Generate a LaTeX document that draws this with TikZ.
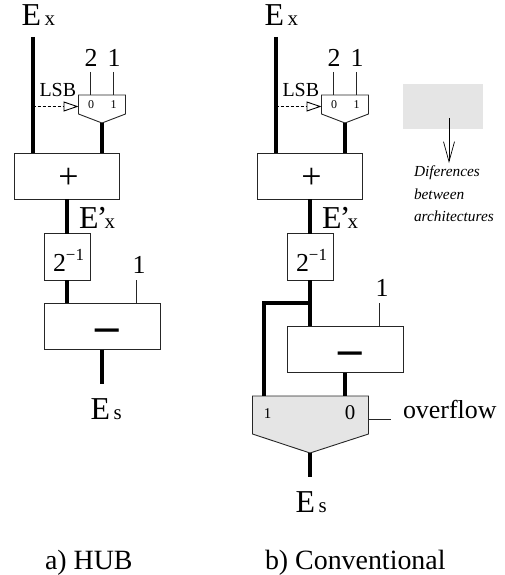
\documentclass[tikz,border=0pt]{standalone}
\usepackage{fontspec}
\setmainfont{Liberation Serif}
\usetikzlibrary{arrows.meta}
\newcommand{\fs}[1]{\fontsize{#1}{#1}\selectfont}
\newcommand{\halfpow}{{\fs{26}2}\raisebox{11bp}{\fs{17}−1}}
\newcommand{\bigsub}[1]{{\fs{32}E}\hspace{3.5bp}{\fs{21}#1}}
\newcommand{\primesub}{{\fs{32}E\hspace{-1.5bp}’\hspace{-3bp}}{\fs{21}x}}
\tikzset{
  x=1bp,y=-1bp,
  thinw/.style={line width=0.9bp,draw=black!85},
  bus/.style={line width=4bp,draw=black},
  blockbox/.style={draw=black!85,line width=0.9bp,fill=white,rectangle,inner sep=0pt,outer sep=0pt},
  txt/.style={anchor=base west,inner sep=0pt,outer sep=0pt},
  ctxt/.style={anchor=base,inner sep=0pt,outer sep=0pt},
  muxs/.style={draw=black!85,line width=0.9bp,line join=miter},
  opsign/.style={anchor=center,inner sep=0pt,outer sep=0pt,font=\fs{47}\bfseries},
  plussign/.style={anchor=center,inner sep=0pt,outer sep=0pt,font=\fs{36}},
  note/.style={txt,font=\fs{15.4}\itshape},
  selarrow/.style={line width=0.9bp,dash pattern=on 3bp off 2bp,-{Triangle[open,length=15bp,width=10bp]}},
}
\begin{document}
\begin{tikzpicture}
\useasboundingbox (0,0) rectangle (505,575);
% ---------- left: HUB
\node[txt] (exa) at (21.6,26) {\bigsub{x}};
\node[blockbox,minimum width=104.5bp,minimum height=46bp] (adda) at (66.75,176) {};
\node[plussign] at (68.5,178) {+};
\coordinate (exatop) at (32.5,37);
\coordinate (muxal) at (78.5,95); \coordinate (muxar) at (125.5,95);
\coordinate (muxaout) at (102,123);
\coordinate (muxasel) at (78.5,106.5);
\draw[muxs] (muxal) -- (muxar) -- (125.5,114) -- (muxaout) -- (78.5,114) -- cycle;
\node[ctxt,font=\fs{26}] (twoa) at (91,66.5) {2};
\node[ctxt,font=\fs{26}] (onea) at (114,66.5) {1};
\coordinate (twoaend) at (90.5,72); \coordinate (oneaend) at (113,72);
\draw[thinw] (twoaend) -- (twoaend |- muxal);
\draw[thinw] (oneaend) -- (oneaend |- muxal);
\node[ctxt,font=\fs{12}] (za) at (91,109) {0};
\node[ctxt,font=\fs{12}] (oa) at (113.5,109) {1};
\node[txt,font=\fs{20}] (lsba) at (39.5,97) {LSB};
\draw[bus] (exatop) -- (exatop |- adda.north);
\draw[bus] (muxaout) -- (muxaout |- adda.north);
\draw[selarrow] (exatop |- muxasel) -- (muxasel);
\node[txt] (epa) at (79,228.5) {\primesub};
\node[blockbox,minimum width=46.5bp,minimum height=46.5bp] (hala) at (67.25,256.75) {};
\node[txt] at (53,271) {\halfpow};
\draw[bus] (hala.north |- adda.south) -- (hala.north);
\node[blockbox,minimum width=116bp,minimum height=46.5bp] (suba) at (102,326.25) {};
\node[opsign] at (107,335) {–};
\draw[bus] (hala.south) -- (hala.south |- suba.north);
\coordinate (oneb) at (136.5,280);
\draw[thinw] (oneb) -- (oneb |- suba.north);
\node[ctxt,font=\fs{26}] (onec) at (139,273) {1};
\coordinate (esa) at (101.5,384);
\draw[bus] (esa |- suba.south) -- (esa);
\node[txt] (esat) at (90.6,419) {\bigsub{s}};
\node[txt,font=\fs{28}] (capa) at (45,569.5) {a) HUB};
% ---------- right: conventional
\node[txt] (exb) at (264.6,26) {\bigsub{x}};
\node[blockbox,minimum width=104.5bp,minimum height=46bp] (addb) at (309.75,176) {};
\node[plussign] at (311.5,178) {+};
\coordinate (exbtop) at (275.5,37);
\coordinate (muxbl) at (321.5,95); \coordinate (muxbr) at (368.5,95);
\coordinate (muxbout) at (345,123);
\coordinate (muxbsel) at (321.5,106.5);
\draw[muxs] (muxbl) -- (muxbr) -- (368.5,114) -- (muxbout) -- (321.5,114) -- cycle;
\node[ctxt,font=\fs{26}] (twob) at (334,66.5) {2};
\node[ctxt,font=\fs{26}] (oneb1) at (357,66.5) {1};
\coordinate (twobend) at (333.5,72); \coordinate (onebend) at (356,72);
\draw[thinw] (twobend) -- (twobend |- muxbl);
\draw[thinw] (onebend) -- (onebend |- muxbl);
\node[ctxt,font=\fs{12}] (zb) at (334,109) {0};
\node[ctxt,font=\fs{12}] (ob) at (356.5,109) {1};
\node[txt,font=\fs{20}] (lsbb) at (282.5,97) {LSB};
\draw[bus] (exbtop) -- (exbtop |- addb.north);
\draw[bus] (muxbout) -- (muxbout |- addb.north);
\draw[selarrow] (exbtop |- muxbsel) -- (muxbsel);
\node[txt] (epb) at (322,228.5) {\primesub};
\node[blockbox,minimum width=46.5bp,minimum height=46.5bp] (halb) at (310.25,256.75) {};
\node[txt] at (296,271) {\halfpow};
\draw[bus] (halb.north |- addb.south) -- (halb.north);
\node[blockbox,minimum width=116bp,minimum height=46.5bp] (subb) at (345,349.25) {};
\node[opsign] at (350,358) {–};
\draw[bus] (halb.south) -- (halb.south |- subb.north);
\coordinate (onebb) at (379.5,303);
\draw[thinw] (onebb) -- (onebb |- subb.north);
\node[ctxt,font=\fs{26}] (oned) at (382,296) {1};
\coordinate (muxctl) at (252.5,396); \coordinate (muxctr) at (368.5,396);
\coordinate (muxcout) at (310,453);
\draw[muxs,fill=black!10] (muxctl) -- (muxctr) -- (368.5,434) -- (muxcout) -- (252.5,434) -- cycle;
\coordinate (branch) at (310,303); \coordinate (branchl) at (263.5,303);
\draw[bus,line join=miter] (branch) -- (branchl) -- (branchl |- muxctl);
\coordinate (subout) at (345,372.5);
\draw[bus] (subout) -- (subout |- muxctl);
\coordinate (esb) at (310,477);
\draw[bus] (muxcout) -- (esb);
\node[ctxt,font=\fs{15}] (mo) at (267.5,418.5) {1};
\node[ctxt,font=\fs{21}] (mz) at (350,419.3) {0};
\coordinate (ovl) at (391,419);
\draw[thinw] (ovl -| muxctr) -- (ovl);
\node[txt,font=\fs{26}] (ovf) at (403,418.7) {overflow};
\node[txt] (esbt) at (295.6,512) {\bigsub{s}};
\node[txt,font=\fs{28}] (capb) at (265,569.5) {b) Conventional};
% ---------- legend
\node[fill=black!10,inner sep=0pt,minimum width=80bp,minimum height=45bp] (leg) at (443,106.5) {};
\coordinate (legs) at (449,118); \coordinate (lege) at (449,163);
\draw[line width=0.7bp,-{Straight Barb[length=20bp,width=11bp,line width=0.7bp]}] (legs) -- (lege);
\node[note] (n1) at (414,176) {Diferences};
\node[note] (n2) at (414,199) {between};
\node[note] (n3) at (414,221.7) {architectures};
\end{tikzpicture}
\end{document}
